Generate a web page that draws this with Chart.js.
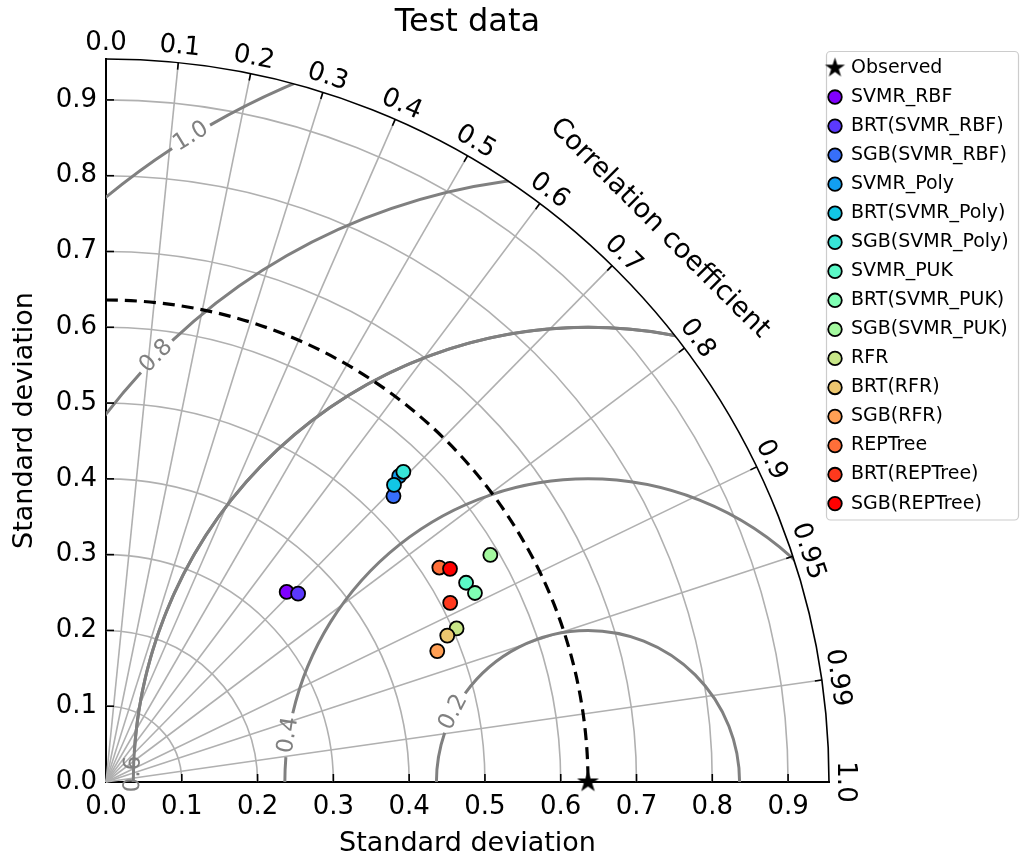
<!DOCTYPE html>
<html>
<head>
<meta charset="utf-8">
<script src="https://cdn.jsdelivr.net/npm/chart.js@4/dist/chart.umd.min.js"></script>
<style>
html,body{margin:0;padding:0;background:#fff;}
#wrap{width:1033px;height:861px;position:relative;}
</style>
</head>
<body>
<div id="wrap"><canvas id="c" width="1033" height="861"></canvas></div>
<script>
// ---------------- data ----------------
const chartTitle = 'Test data';
const refLabel = 'Observed';
const refStd = 0.636;
const models = ['SVMR_RBF','BRT(SVMR_RBF)','SGB(SVMR_RBF)','SVMR_Poly','BRT(SVMR_Poly)','SGB(SVMR_Poly)',
  'SVMR_PUK','BRT(SVMR_PUK)','SGB(SVMR_PUK)','RFR','BRT(RFR)','SGB(RFR)','REPTree','BRT(REPTree)','SGB(REPTree)'];
const modelStd  = [0.346,0.355,0.535,0.559,0.546,0.567,0.543,0.547,0.589,0.505,0.490,0.470,0.523,0.512,0.534];
const modelCorr = [0.689,0.714,0.709,0.692,0.696,0.692,0.875,0.890,0.861,0.916,0.919,0.930,0.841,0.887,0.850];
const modelColors = ['#8000ff','#5b39fd','#376ff9','#129ff1','#12c7e6','#37e6d8','#5bf9c7','#80ffb4',
  '#a4f99f','#c8e688','#edc76f','#ff9f54','#ff6f39','#ff391d','#ff0000'];
const stdTicks = [0,0.1,0.2,0.3,0.4,0.5,0.6,0.7,0.8,0.9];
const stdTickLabels = ['0.0','0.1','0.2','0.3','0.4','0.5','0.6','0.7','0.8','0.9'];
const corrTicks = [0,0.1,0.2,0.3,0.4,0.5,0.6,0.7,0.8,0.9,0.95,0.99,1.0];
const corrTickLabels = ['0.0','0.1','0.2','0.3','0.4','0.5','0.6','0.7','0.8','0.9','0.95','0.99','1.0'];
const rmsLevels = [0.2,0.4,0.6,0.8,1.0];
const rmsLabels = ['0.2','0.4','0.6','0.8','1.0'];
const xTitle = 'Standard deviation';
const yTitle = 'Standard deviation';
const corrTitle = 'Correlation coefficient';

// ---------------- setup ----------------
const smax = 1.5 * refStd;
const FONT = "'DejaVu Sans', sans-serif";
Chart.defaults.font.family = FONT;

function makeStar(outer){
  const s = Math.ceil(outer*2+2);
  const c = document.createElement('canvas'); c.width = s; c.height = s;
  const g = c.getContext('2d'); g.fillStyle = '#000'; g.beginPath();
  for (let k=0;k<10;k++){
    const r = (k%2) ? outer*0.382 : outer;
    const a = -Math.PI/2 + k*Math.PI/5;
    const x = s/2 + r*Math.cos(a), y = s/2 + r*Math.sin(a);
    if (k) g.lineTo(x,y); else g.moveTo(x,y);
  }
  g.closePath(); g.fill();
  return c;
}
const starBig = makeStar(11.5);
const starLegend = makeStar(10.5);

const datasets = [{
  label: refLabel,
  data: [{x: refStd, y: 0}],
  pointStyle: starBig, pointRadius: 12, pointHoverRadius: 12,
  backgroundColor: '#000', borderColor: '#000', clip: false, order: 100
}];
models.forEach((m,i)=>{
  const s = modelStd[i], c = modelCorr[i];
  datasets.push({
    label: m,
    data: [{x: s*c, y: s*Math.sqrt(1-c*c)}],
    backgroundColor: modelColors[i], borderColor: '#000', borderWidth: 1.8,
    pointRadius: 7, pointHoverRadius: 7, clip: false, order: 99 - i
  });
});

// label angles (deg, around reference point) for inline rms contour labels
const rmsLabelAngle = {'0.2':152.6,'0.4':171.1,'0.6':179.0,'0.8':135.4,'1.0':121.6};

const taylorPlugin = {
  id: 'taylor',
  beforeDatasetsDraw(chart){
    const ctx = chart.ctx, xs = chart.scales.x, ys = chart.scales.y;
    const ox = xs.getPixelForValue(0), oy = ys.getPixelForValue(0);
    const R = v => xs.getPixelForValue(v) - ox;
    const Rmax = R(smax);
    ctx.save();
    // std grid arcs
    ctx.strokeStyle = '#b0b0b0'; ctx.lineWidth = 1.6;
    stdTicks.forEach(s=>{ if (s<=0) return; ctx.beginPath(); ctx.arc(ox,oy,R(s),0,-Math.PI/2,true); ctx.stroke(); });
    // radial corr grid
    corrTicks.forEach(c=>{
      if (c<=0 || c>=1) return;
      const t = Math.acos(c);
      ctx.beginPath(); ctx.moveTo(ox,oy); ctx.lineTo(ox+Rmax*Math.cos(t), oy-Rmax*Math.sin(t)); ctx.stroke();
    });
    // rms contours
    const cx = xs.getPixelForValue(refStd), cy = oy;
    ctx.save();
    ctx.beginPath(); ctx.moveTo(ox,oy); ctx.lineTo(ox+Rmax,oy); ctx.arc(ox,oy,Rmax,0,-Math.PI/2,true); ctx.closePath(); ctx.clip();
    ctx.strokeStyle = '#808080'; ctx.lineWidth = 3;
    ctx.font = '23px ' + FONT;
    const labelInfo = [];
    rmsLevels.forEach((lv,i)=>{
      const r = R(lv);
      const phi = rmsLabelAngle[rmsLabels[i]] * Math.PI/180;
      const w = ctx.measureText(rmsLabels[i]).width;
      const d = (w/2 + 4)/r;
      ctx.beginPath(); ctx.arc(cx,cy,r,0,-(phi-d),true); ctx.stroke();
      ctx.beginPath(); ctx.arc(cx,cy,r,-(phi+d),-Math.PI,true); ctx.stroke();
      labelInfo.push({x: cx + r*Math.cos(phi), y: cy - r*Math.sin(phi), rot: -(phi - Math.PI/2), text: rmsLabels[i]});
    });
    ctx.restore();
    ctx.fillStyle = '#808080'; ctx.font = '23px ' + FONT; ctx.textAlign = 'center'; ctx.textBaseline = 'middle';
    labelInfo.forEach(L=>{ ctx.save(); ctx.translate(L.x,L.y); ctx.rotate(L.rot); ctx.fillText(L.text,0,0); ctx.restore(); });
    // reference dashed arc
    ctx.strokeStyle = '#000'; ctx.lineWidth = 3.2; ctx.setLineDash([12,7]);
    ctx.beginPath(); ctx.arc(ox,oy,R(refStd),-Math.PI/2,0,false); ctx.stroke();
    ctx.setLineDash([]);
    // outer arc
    ctx.lineWidth = 1.6; ctx.beginPath(); ctx.arc(ox,oy,Rmax,0,-Math.PI/2,true); ctx.stroke();
    // corr ticks + labels
    ctx.fillStyle = '#000'; ctx.font = '26px ' + FONT; ctx.textAlign='center'; ctx.textBaseline='middle';
    corrTicks.forEach((c,i)=>{
      const t = Math.acos(c);
      if (c>0 && c<1){
        ctx.beginPath();
        ctx.moveTo(ox+Rmax*Math.cos(t), oy-Rmax*Math.sin(t));
        ctx.lineTo(ox+(Rmax-7)*Math.cos(t), oy-(Rmax-7)*Math.sin(t)); ctx.stroke();
      }
      const rl = Rmax + 18;
      ctx.save(); ctx.translate(ox+rl*Math.cos(t), oy-rl*Math.sin(t)); ctx.rotate(Math.PI/2 - t);
      ctx.fillText(corrTickLabels[i],0,2); ctx.restore();
    });
    // corr title
    ctx.font = '27px ' + FONT;
    const tt = Math.PI/4, rt = Rmax + 60;
    ctx.save(); ctx.translate(ox+rt*Math.cos(tt), oy-rt*Math.sin(tt)); ctx.rotate(Math.PI/2 - tt);
    ctx.fillText(corrTitle,0,0); ctx.restore();
    // inward axis ticks
    ctx.lineWidth = 1.6; ctx.strokeStyle = '#000';
    stdTicks.forEach(s=>{
      if (s<=0) return;
      const px = xs.getPixelForValue(s), py = ys.getPixelForValue(s);
      ctx.beginPath(); ctx.moveTo(px,oy); ctx.lineTo(px,oy-8); ctx.stroke();
      ctx.beginPath(); ctx.moveTo(ox,py); ctx.lineTo(ox+8,py); ctx.stroke();
    });
    ctx.restore();
  },
  afterDraw(chart){
    const ctx = chart.ctx, area = chart.chartArea;
    ctx.save();
    // title
    ctx.fillStyle = '#000'; ctx.font = '32px ' + FONT; ctx.textAlign = 'center'; ctx.textBaseline = 'middle';
    ctx.fillText(chartTitle, (area.left+area.right)/2, 23);
    // legend
    const bx = 826.5, by = 51.5, bw = 192, bh = 468.5;
    ctx.fillStyle = 'rgba(255,255,255,0.8)'; ctx.strokeStyle = '#cccccc'; ctx.lineWidth = 1.2;
    ctx.beginPath(); ctx.roundRect(bx,by,bw,bh,4); ctx.fill(); ctx.stroke();
    ctx.font = '19px ' + FONT; ctx.textAlign = 'left'; ctx.textBaseline = 'middle'; ctx.fillStyle = '#000';
    const ds = chart.data.datasets;
    ds.forEach((d,i)=>{
      const y = 68 + i*29.04;
      if (i===0){
        ctx.drawImage(starLegend, 835 - starLegend.width/2, y - starLegend.height/2);
      } else {
        ctx.beginPath(); ctx.arc(835, y, 6.8, 0, Math.PI*2);
        ctx.fillStyle = d.backgroundColor; ctx.fill();
        ctx.lineWidth = 1.8; ctx.strokeStyle = '#000'; ctx.stroke();
      }
      ctx.fillStyle = '#000';
      ctx.fillText(d.label, 851, y);
    });
    ctx.restore();
  }
};

new Chart(document.getElementById('c'), {
  type: 'scatter',
  data: { datasets },
  options: {
    responsive: false, animation: false, devicePixelRatio: 1,
    layout: { padding: { left: 0, top: 59, right: 204, bottom: 0 } },
    plugins: { legend: { display: false }, tooltip: { enabled: false }, title: { display: false } },
    scales: {
      x: {
        type: 'linear', position: 'bottom', min: 0, max: smax,
        afterFit(s){ s.height = 79; },
        afterBuildTicks(s){ s.ticks = stdTicks.map(v=>({value:v})); },
        grid: { display: false, drawTicks: false },
        border: { display: true, color: '#000', width: 2 },
        ticks: { color: '#000', font: { size: 26 }, padding: 10, maxRotation: 0, autoSkip: false,
          callback: (v, i) => stdTickLabels[i] },
        title: { display: true, text: xTitle, color: '#000', font: { size: 27 }, padding: { top: 0, bottom: 1 } }
      },
      y: {
        type: 'linear', position: 'left', min: 0, max: smax,
        afterFit(s){ s.width = 106; },
        afterBuildTicks(s){ s.ticks = stdTicks.map(v=>({value:v})); },
        grid: { display: false, drawTicks: false },
        border: { display: true, color: '#000', width: 2 },
        ticks: { color: '#000', font: { size: 26 }, padding: 9, autoSkip: false,
          callback: (v, i) => stdTickLabels[i] },
        title: { display: true, text: yTitle, color: '#000', font: { size: 27 }, padding: { top: 9, bottom: 0 } }
      }
    }
  },
  plugins: [taylorPlugin]
});
</script>
</body>
</html>
